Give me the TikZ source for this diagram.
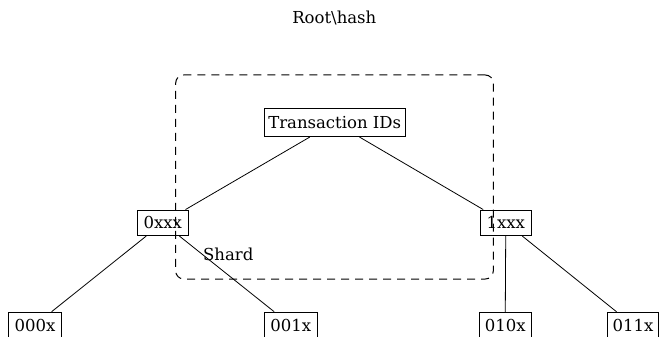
\documentclass[tikz,border=0pt]{standalone}
\usepackage{fontspec}
\setmainfont{DejaVu Serif}
\begin{document}
\begin{tikzpicture}[x=1pt,y=-1pt,
  font=\fontsize{16.5}{20}\selectfont,
  treebox/.style={draw, line width=0.8pt, inner sep=0pt, minimum height=25.7pt,
    text height=12pt, text depth=0pt},
  link/.style={line width=0.8pt},
  shardbox/.style={draw, line width=1pt, dash pattern=on 8pt off 6pt,
    rounded corners=8pt, inner sep=0pt}]
\useasboundingbox (0,0) rectangle (659,337);

% heading
\node[anchor=base] (root) at (334.3,24) {Root\textbackslash hash};

% tree nodes
\node[treebox, minimum width=140.7pt, minimum height=28.4pt] (tx) at (334.7,122.5) {Transaction IDs};
\node[treebox, minimum width=51pt]   (l0)  at (162.8,222.8) {0xxx};
\node[treebox, minimum width=50.3pt] (l1)  at (505.8,222.8) {1xxx};
\node[treebox, minimum width=53.4pt] (b00) at (35,325)    {000x};
\node[treebox, minimum width=53pt]   (b01) at (290.8,325) {001x};
\node[treebox, minimum width=51.7pt] (b10) at (505.2,325) {010x};
\node[treebox, minimum width=51pt]   (b11) at (633,325)   {011x};

% connectors
\draw[link] (tx) -- (l0);
\draw[link] (tx) -- (l1);
\draw[link] (l0) -- (b00);
\draw[link] (l0) -- (b01);
\draw[link] (l1) -- (b10);
\draw[link] (l1) -- (b11);

% shard region
\node[shardbox, minimum width=317.6pt, minimum height=204pt] (shard) at (334.5,177) {};
\node (shardlabel) at (228.3,254) {Shard};
\end{tikzpicture}
\end{document}
